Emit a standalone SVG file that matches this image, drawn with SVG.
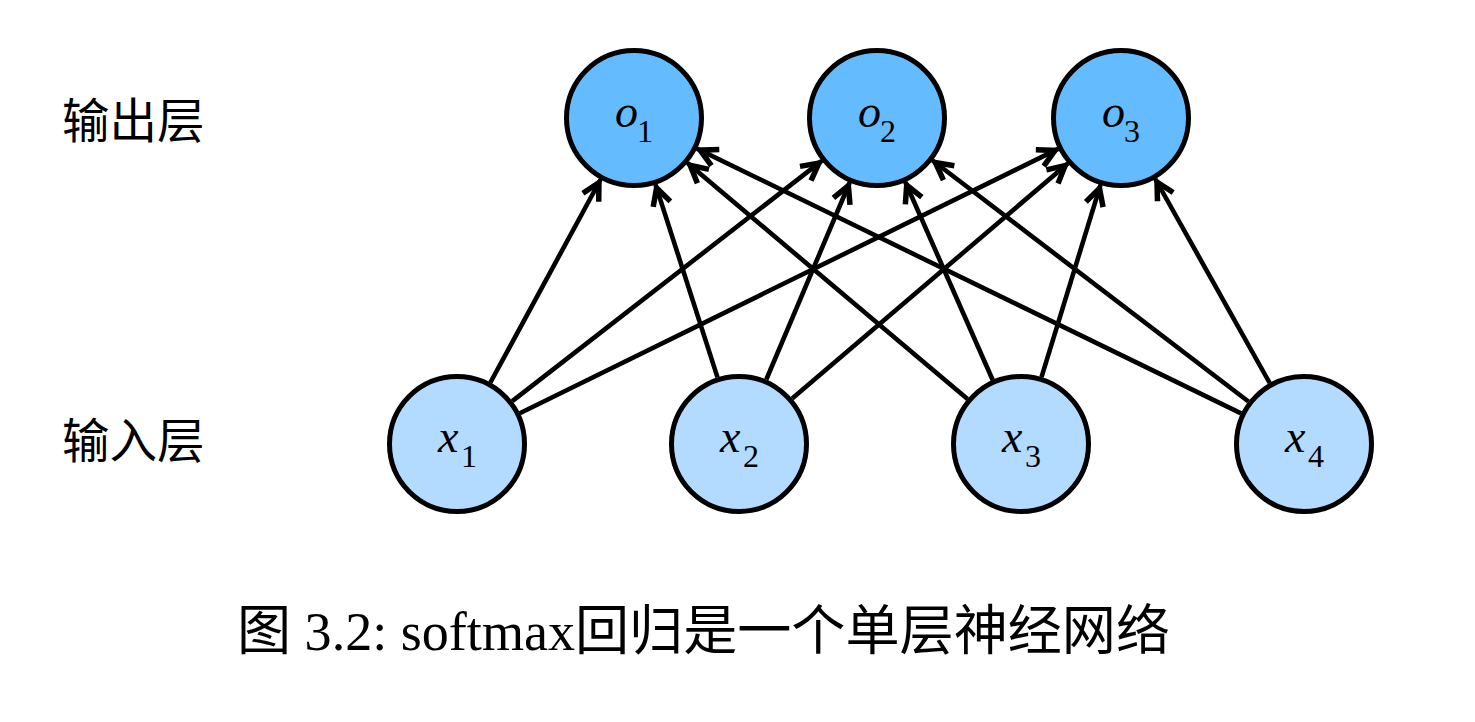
<svg xmlns="http://www.w3.org/2000/svg" width="1475" height="722" viewBox="0 0 1475 722">
<style>
.out{fill:#64bcff;stroke:#000;stroke-width:5}
.in{fill:#b3daff;stroke:#000;stroke-width:5}
.v{font-family:"Liberation Serif",serif;font-style:italic;font-size:46px;fill:#000}
.s{font-family:"Liberation Serif",serif;font-size:32px;fill:#000}
.lab{font-family:"Noto Sans CJK SC",sans-serif;font-size:47.5px;fill:#000}
.cap{font-family:"Liberation Serif","Noto Sans CJK SC",serif;font-size:54px;fill:#000}
.e{stroke:#000;stroke-width:4.6;fill:none}
</style>
<defs>
<marker id="ah" markerUnits="userSpaceOnUse" viewBox="-26 -14 34 28" markerWidth="34" markerHeight="28" refX="3.5" refY="0" orient="auto">
<path d="M-17,-9 L0,0 L-17,9" fill="none" stroke="#000" stroke-width="5.5" stroke-linejoin="miter"/>
</marker>
</defs>
<rect width="1475" height="722" fill="#fff"/>
<g id="connectors">
<line class="e" marker-end="url(#ah)" x1="490.4" y1="382.5" x2="600.6" y2="179.5"/>
<line class="e" marker-end="url(#ah)" x1="512.3" y1="401.1" x2="821.7" y2="160.9"/>
<line class="e" marker-end="url(#ah)" x1="519.8" y1="413.2" x2="1058.2" y2="148.9"/>
<line class="e" marker-end="url(#ah)" x1="717.5" y1="377.4" x2="655.5" y2="184.6"/>
<line class="e" marker-end="url(#ah)" x1="766.3" y1="379.5" x2="849.7" y2="182.5"/>
<line class="e" marker-end="url(#ah)" x1="792.2" y1="398.6" x2="1067.8" y2="163.4"/>
<line class="e" marker-end="url(#ah)" x1="967.5" y1="398.9" x2="687.5" y2="163.1"/>
<line class="e" marker-end="url(#ah)" x1="992.7" y1="380.0" x2="905.3" y2="182.0"/>
<line class="e" marker-end="url(#ah)" x1="1041.5" y1="377.1" x2="1100.5" y2="184.9"/>
<line class="e" marker-end="url(#ah)" x1="1241.1" y1="413.4" x2="696.9" y2="148.6"/>
<line class="e" marker-end="url(#ah)" x1="1248.4" y1="401.5" x2="932.6" y2="160.5"/>
<line class="e" marker-end="url(#ah)" x1="1269.7" y1="383.0" x2="1155.3" y2="179.0"/>
</g>
<g id="o1"><circle class="out" cx="634" cy="118" r="67.5"/><text class="v" x="615" y="127">o</text><text class="s" x="637" y="142">1</text></g>
<g id="o2"><circle class="out" cx="877" cy="118" r="67.5"/><text class="v" x="858" y="127">o</text><text class="s" x="880" y="142">2</text></g>
<g id="o3"><circle class="out" cx="1121" cy="118" r="67.5"/><text class="v" x="1102" y="127">o</text><text class="s" x="1124" y="142">3</text></g>
<g id="x1"><circle class="in" cx="457" cy="444" r="67.5"/><text class="v" x="438" y="452">x</text><text class="s" x="461" y="467">1</text></g>
<g id="x2"><circle class="in" cx="739" cy="444" r="67.5"/><text class="v" x="720" y="452">x</text><text class="s" x="743" y="467">2</text></g>
<g id="x3"><circle class="in" cx="1021" cy="444" r="67.5"/><text class="v" x="1002" y="452">x</text><text class="s" x="1025" y="467">3</text></g>
<g id="x4"><circle class="in" cx="1304" cy="444" r="67.5"/><text class="v" x="1285" y="452">x</text><text class="s" x="1308" y="467">4</text></g>
<g id="labels">
<text class="lab" x="62" y="138">输出层</text>
<text class="lab" x="62" y="458">输入层</text>
</g>
<text class="cap" x="237" y="650" textLength="933" lengthAdjust="spacingAndGlyphs">图 3.2: softmax回归是一个单层神经网络</text>
</svg>
